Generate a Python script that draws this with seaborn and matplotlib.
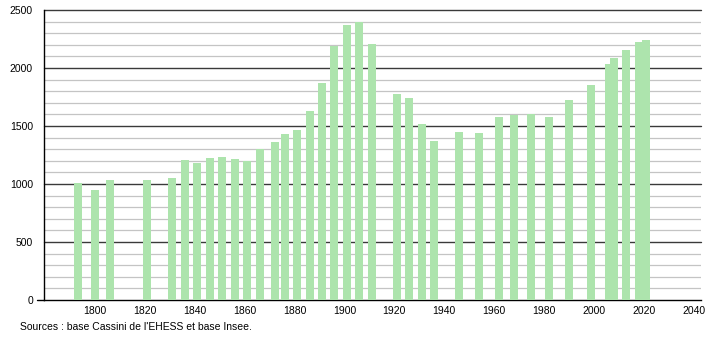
import matplotlib
matplotlib.use("Agg")
import matplotlib.pyplot as plt
import seaborn as sns
import pandas as pd
from matplotlib.ticker import MultipleLocator

years = [1793, 1800, 1806, 1821, 1831, 1836, 1841, 1846, 1851, 1856, 1861, 1866,
         1872, 1876, 1881, 1886, 1891, 1896, 1901, 1906, 1911, 1921, 1926, 1931,
         1936, 1946, 1954, 1962, 1968, 1975, 1982, 1990, 1999, 2006, 2008, 2013,
         2018, 2021]
population = [1011, 948, 1034, 1034, 1049, 1207, 1184, 1224, 1233, 1216, 1198, 1302,
              1363, 1432, 1463, 1629, 1873, 2193, 2374, 2396, 2207, 1773, 1739, 1514,
              1371, 1446, 1437, 1578, 1592, 1603, 1578, 1724, 1852, 2034, 2088, 2155,
              2224, 2241]
x_ticks = [1800, 1820, 1840, 1860, 1880, 1900, 1920, 1940, 1960, 1980, 2000, 2020, 2040]
y_ticks = [0, 500, 1000, 1500, 2000, 2500]
source_text = "Sources : base Cassini de l'EHESS et base Insee."

df = pd.DataFrame({"year": years, "population": population})

sns.set_style("white")
plt.rcParams["font.family"] = ["Liberation Sans", "DejaVu Sans"]

fig = plt.figure(figsize=(7.1, 3.4), dpi=100)
ax = fig.add_axes([44 / 710, 1 - 300 / 340, (701 - 44) / 710, (300 - 10) / 340])

sns.barplot(data=df, x="year", y="population", native_scale=True, width=1.6,
            color="#ade4ad", saturation=1, edgecolor="none", linewidth=0,
            errorbar=None, ax=ax, zorder=3)

ax.set_xlim(1779.5, 2043)
ax.set_ylim(0, 2500)
ax.set_xticks(x_ticks)
ax.set_xticklabels([str(t) for t in x_ticks])
ax.set_yticks(y_ticks)
ax.set_yticklabels([str(t) for t in y_ticks])
ax.yaxis.set_minor_locator(MultipleLocator(100))
ax.set_xlabel("")
ax.set_ylabel("")

ax.grid(False)
ax.set_axisbelow(True)
for v in range(100, 2500, 100):
    if v % 500 == 0:
        continue
    ax.axhline(v, color="#c4c4c4", linewidth=0.9, zorder=1)
for v in [500, 1000, 1500, 2000, 2500]:
    ax.axhline(v, color="#3a3a3a", linewidth=1.0, zorder=1, clip_on=False)

for s in ["top", "right"]:
    ax.spines[s].set_visible(False)
ax.spines["left"].set_color("#000000")
ax.spines["left"].set_linewidth(1.0)
ax.spines["bottom"].set_color("#000000")
ax.spines["bottom"].set_linewidth(1.0)
ax.axhline(0, xmin=-0.01, xmax=0.0, color="#000000", linewidth=1.0, clip_on=False, zorder=5)

ax.tick_params(axis="x", length=0, pad=4, labelsize=7.5, colors="#000000")
ax.tick_params(axis="y", which="major", length=5, width=1, pad=3, labelsize=7.5,
               direction="out", colors="#000000")
ax.tick_params(axis="y", which="minor", length=3, width=1, direction="out", colors="#000000")

fig.text(20 / 710, 1 - 327 / 340, source_text, fontsize=7.5, va="center", ha="left",
         color="#000000")

fig.savefig("out.png", dpi=100)
